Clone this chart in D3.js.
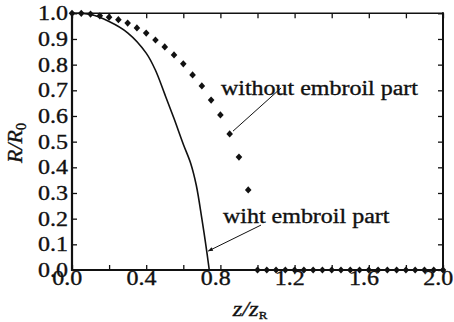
<!DOCTYPE html>
<html><head><meta charset="utf-8">
<script src="https://cdn.jsdelivr.net/npm/d3@7"></script>
<style>body{margin:0;background:#fff}svg{display:block}text{font-family:"Liberation Serif","Times New Roman",serif;fill:#111;stroke:#111;stroke-width:0.35px}</style>
</head><body>
<svg id="c" width="454" height="322"></svg>
<script>
// Data
const withoutZ = [0,0.05,0.1,0.15,0.2,0.25,0.3,0.35,0.4,0.45,0.5,0.55,0.6,0.65,0.7,0.75,0.8,0.85,0.9,0.95,
  1.0,1.05,1.1,1.15,1.2,1.25,1.3,1.35,1.4,1.45,1.5,1.55,1.6,1.65,1.7,1.75,1.8,1.85,1.9,1.95,2.0];
const withoutR = [1.0,1.0,0.997,0.99,0.985,0.975,0.962,0.943,0.923,0.896,0.869,0.838,0.803,0.760,0.717,0.662,0.604,0.530,0.44,0.312,
  0,0,0,0,0,0,0,0,0,0,0,0,0,0,0,0,0,0,0,0,0];
const withZ = [0,0.1,0.2,0.3,0.4,0.45,0.5,0.55,0.6,0.64,0.67,0.70,0.72,0.74];
const withR = [1.0,0.995,0.968,0.924,0.845,0.778,0.685,0.59,0.49,0.415,0.33,0.20,0.105,0.0];
const xTicks = [0,0.2,0.4,0.6,0.8,1.0,1.2,1.4,1.6,1.8,2.0];
const xLabelTicks = [0,0.4,0.8,1.2,1.6,2.0];
const yTicks = [0,0.1,0.2,0.3,0.4,0.5,0.6,0.7,0.8,0.9,1.0];
const labelWithout = "without embroil part";
const labelWith = "wiht embroil part";

const svg = d3.select("#c");
svg.append("rect").attr("width",454).attr("height",322).attr("fill","#fff");
const x = d3.scaleLinear().domain([0,2]).range([72,443]);
const y = d3.scaleLinear().domain([0,1]).range([270,13.3]);
const fmt = d3.format(".1f");
const SX = 1.17;
const FS = 20.5;

// axes
const gB = svg.append("g").attr("transform",`translate(0,${y(0)})`)
  .call(d3.axisBottom(x).tickValues(xTicks).tickSizeInner(-5).tickSizeOuter(0).tickPadding(0)
    .tickFormat(d => xLabelTicks.some(v=>Math.abs(v-d)<1e-9) ? fmt(d) : ""));
const gT = svg.append("g").attr("transform",`translate(0,${y(1)})`)
  .call(d3.axisTop(x).tickValues(xTicks).tickSizeInner(-5).tickSizeOuter(0).tickFormat(""));
const gL = svg.append("g").attr("transform",`translate(${x(0)},0)`)
  .call(d3.axisLeft(y).tickValues(yTicks).tickSizeInner(-5).tickSizeOuter(0).tickPadding(3.4).tickFormat(fmt));
const gR = svg.append("g").attr("transform",`translate(${x(2)},0)`)
  .call(d3.axisRight(y).tickValues(yTicks).tickSizeInner(-5).tickSizeOuter(0).tickFormat(""));
[gB,gT,gL,gR].forEach(g=>{
  g.select(".domain").remove();
  g.selectAll(".tick line").attr("stroke","#111").attr("stroke-width",1.3);
  g.selectAll("text").attr("font-size",FS).attr("font-family",'"Liberation Serif",serif').attr("fill","#111")
    .attr("transform",`scale(${SX},1)`);
});
gB.selectAll("text").attr("dy","0.74em").attr("x",-4.5);
gL.selectAll("text").attr("dy","0.32em");

// frame
const fr = svg.append("g").attr("stroke","#111").attr("fill","none");
fr.append("line").attr("x1",x(0)).attr("x2",x(2)).attr("y1",y(0)).attr("y2",y(0)).attr("stroke-width",2);
fr.append("line").attr("x1",x(0)).attr("x2",x(2)).attr("y1",y(1)).attr("y2",y(1)).attr("stroke-width",1.6);
fr.append("line").attr("x1",x(0)).attr("x2",x(0)).attr("y1",y(0)+1).attr("y2",y(1)-1).attr("stroke-width",2.2);
fr.append("line").attr("x1",x(2)).attr("x2",x(2)).attr("y1",y(0)+1).attr("y2",y(1)-1).attr("stroke-width",2);

// solid curve
const line = d3.line().x(d=>x(d[0])).y(d=>y(d[1])).curve(d3.curveCatmullRom.alpha(0.5));
svg.append("path").datum(withZ.map((z,i)=>[z,withR[i]])).attr("d",line)
  .attr("fill","none").attr("stroke","#111").attr("stroke-width",1.6);

// diamonds
svg.append("g").selectAll("path").data(withoutZ.map((z,i)=>[z,withoutR[i]])).join("path")
  .attr("transform",d=>`translate(${x(d[0])},${y(d[1])})`)
  .attr("d","M0,-3.6L3.3,0L0,3.6L-3.3,0Z").attr("fill","#111");

// annotations
const defs = svg.append("defs");
defs.append("marker").attr("id","ar").attr("viewBox","0 0 10 10").attr("refX",9).attr("refY",5)
  .attr("markerWidth",7).attr("markerHeight",5).attr("orient","auto").attr("markerUnits","userSpaceOnUse")
  .append("path").attr("d","M0,1L10,5L0,9Z").attr("fill","#111");
svg.append("line").attr("x1",x(1.127)).attr("y1",y(0.709)).attr("x2",x(0.868)).attr("y2",y(0.541))
  .attr("stroke","#111").attr("stroke-width",1);
svg.append("line").attr("x1",x(1.019)).attr("y1",y(0.175)).attr("x2",x(0.735)).attr("y2",y(0.074))
  .attr("stroke","#111").attr("stroke-width",1).attr("marker-end","url(#ar)");
svg.append("text").attr("transform",`translate(${x(0.803)},${y(0.682)}) scale(${SX},1)`)
  .attr("font-size",FS).text(labelWithout);
svg.append("text").attr("transform",`translate(${x(0.814)},${y(0.183)}) scale(${SX},1)`)
  .attr("font-size",FS).text(labelWith);

// axis titles
const xt = svg.append("text").attr("transform",`translate(250,315.5) scale(${SX},1)`)
  .attr("text-anchor","middle").attr("font-size",21).attr("font-style","italic");
xt.append("tspan").text("z/z");
xt.append("tspan").attr("font-size",11).attr("font-style","normal").attr("dy",3).text("R");
const yt = svg.append("text").attr("transform","translate(22,143) rotate(-90)")
  .attr("text-anchor","middle").attr("font-size",22).attr("font-style","italic");
yt.append("tspan").text("R/R");
yt.append("tspan").attr("font-size",14).attr("font-style","normal").attr("dy",4).text("0");
</script>
</body></html>
